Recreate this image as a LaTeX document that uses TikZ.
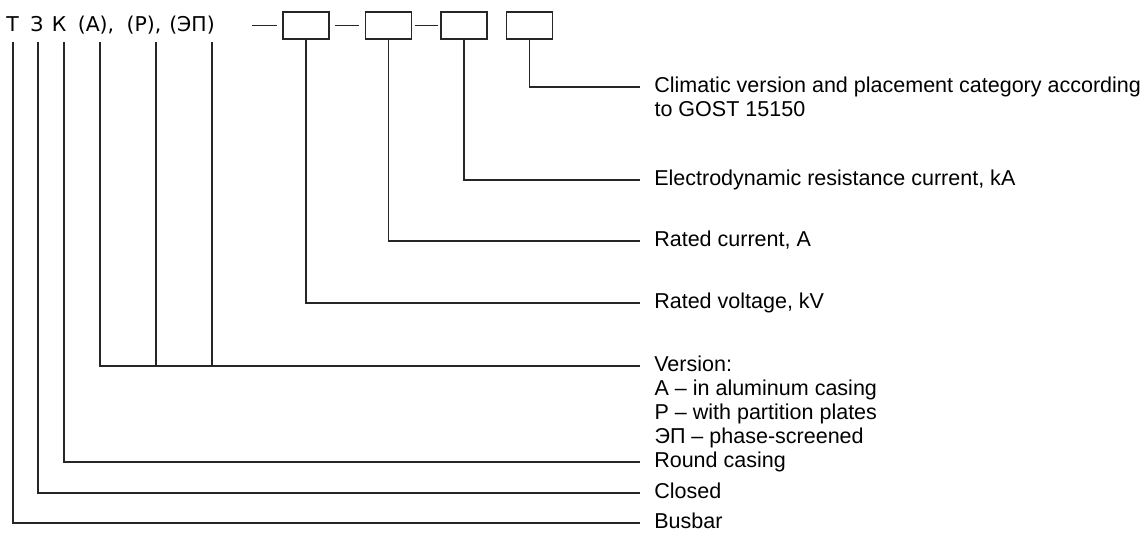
\documentclass[tikz,border=0pt]{standalone}
\usepackage{fontspec}
\setmainfont{Liberation Sans}
\newfontfamily\codefont{DejaVu Sans}
\usetikzlibrary{positioning}

\begin{document}
\begin{tikzpicture}[x=0.025cm, y=-0.025cm,
        code/.style={anchor=base, inner sep=0pt, font=\codefont\fontsize{14.5}{16}\selectfont},
        slot/.style={rectangle, draw=black!85, line width=1pt, minimum width=1.15cm, minimum height=0.675cm, inner sep=0pt},
        lbl/.style={anchor=west, inner xsep=0.35cm, inner ysep=0pt, text height=0.43cm, text depth=0.158cm, font=\fontsize{15.3}{17}\selectfont},
        sublbl/.style={lbl, anchor=north west, inner xsep=0pt},
        wire/.style={draw=black!85, line width=1pt},
        link/.style={wire, shorten <=0.14cm, shorten >=0.14cm}]
    \useasboundingbox (0,0) rectangle (1146,535);

    % Code letters
    \node[code] (t) at (12.5,31) {Т};
    \node[code] (z) at (37,31) {З};
    \node[code] (k) at (59,31) {К};
    \node[code] (a) at (96,31) {(А),};
    \node[code] (r) at (144,31) {(Р),};
    \node[code] (ep) at (192,31) {(ЭП)};

    % Taps under the letters
    \coordinate (pt) at (13,42);
    \coordinate (pz) at (38,42);
    \coordinate (pk) at (64,42);
    \coordinate (pa) at (100,42);
    \coordinate (pr) at (156,42);
    \coordinate (pep) at (212,42);

    % Boxes
    \coordinate (lead) at (252,25.5);
    \node[slot] (b1) at (306,25.5) {};
    \node[slot, right=0.875cm of b1] (b2) {};
    \node[slot, right=0.7cm of b2] (b3) {};
    \node[slot, right=0.45cm of b3] (b4) {};

    % Labels
    \node[lbl] (lclim) at (640,87) {Climatic version and placement category according};
    \node[sublbl] (lclim2) at (lclim.south west -| lclim.text) {to GOST 15150};
    \node[lbl] (lelec) at (640,180) {Electrodynamic resistance current, kA};
    \node[lbl] (lcur) at (640,241) {Rated current, A};
    \node[lbl] (lvolt) at (640,303) {Rated voltage, kV};
    \node[lbl] (lver) at (640,366) {Version:};
    \node[sublbl] (lvera) at (lver.south west -| lver.text) {А – in aluminum casing};
    \node[sublbl] (lverp) at (lvera.south west) {Р – with partition plates};
    \node[sublbl] (lvere) at (lverp.south west) {ЭП – phase-screened};
    \node[lbl] (lround) at (640,462) {Round casing};
    \node[lbl] (lclosed) at (640,493) {Closed};
    \node[lbl] (lbus) at (640,523) {Busbar};

    % Connections
    \draw[link, shorten <=0pt] (lead) -- (b1);
    \draw[link] (b1) -- (b2);
    \draw[link, shorten <=0.07cm, shorten >=0.05cm] (b2) -- (b3);
    \draw[wire] (b4.south) |- (lclim.west);
    \draw[wire] (b3.south) |- (lelec.west);
    \draw[wire] (b2.south) |- (lcur.west);
    \draw[wire] (b1.south) |- (lvolt.west);
    \foreach \p in {pa,pr,pep}
        \draw[wire] (\p) |- (lver.west);
    \draw[wire] (pk) |- (lround.west);
    \draw[wire] (pz) |- (lclosed.west);
    \draw[wire] (pt) |- (lbus.west);
\end{tikzpicture}
\end{document}
